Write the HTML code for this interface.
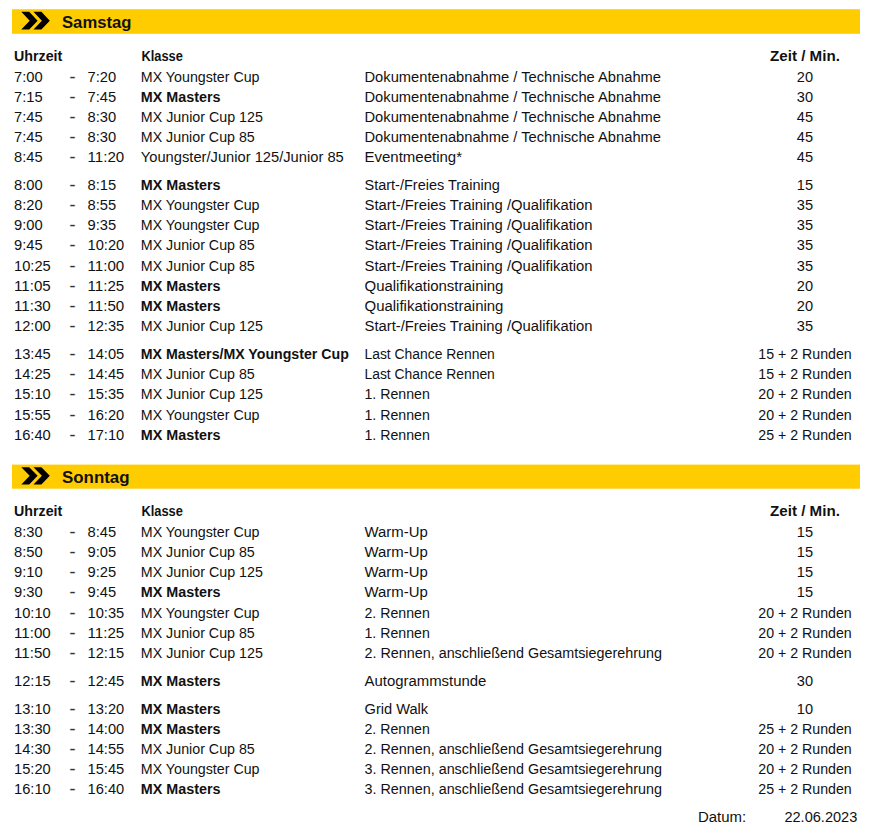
<!DOCTYPE html>
<html><head><meta charset="utf-8"><title>Zeitplan</title>
<style>
html,body{margin:0;padding:0;background:#fff;}
body{width:872px;height:831px;overflow:hidden;}
svg{display:block;}
text{font-family:"Liberation Sans",Arial,sans-serif;fill:#111;}
.r{font-size:14px;}
.b{font-size:14px;font-weight:bold;}
.h{font-size:16.6px;font-weight:bold;}
.d{font-size:14px;stroke:#888;stroke-width:0.3px;}
</style></head><body>
<svg width="872" height="831" viewBox="0 0 872 831">

<rect x="12" y="9.2" width="848" height="24.599999999999998" fill="#FFCC00"/>
<g fill="#000"><polygon points="21.30,11.80 29.20,11.80 37.60,20.70 29.20,29.60 21.30,29.60 29.70,20.70"/><polygon points="33.50,11.80 41.40,11.80 49.80,20.70 41.40,29.60 33.50,29.60 41.90,20.70"/></g>
<rect x="12" y="464.6" width="848" height="24.099999999999966" fill="#FFCC00"/>
<g fill="#000"><polygon points="21.30,467.20 29.20,467.20 37.60,475.85 29.20,484.50 21.30,484.50 29.70,475.85"/><polygon points="33.50,467.20 41.40,467.20 49.80,475.85 41.40,484.50 33.50,484.50 41.90,475.85"/></g>
<text class="b" x="14.00" y="61.10" textLength="48.31" lengthAdjust="spacingAndGlyphs">Uhrzeit</text>
<text class="b" x="141.50" y="61.10" textLength="41.40" lengthAdjust="spacingAndGlyphs">Klasse</text>
<text class="b" x="805.00" y="61.10" text-anchor="middle" textLength="69.82" lengthAdjust="spacingAndGlyphs">Zeit / Min.</text>
<text class="b" x="14.00" y="516.00" textLength="48.31" lengthAdjust="spacingAndGlyphs">Uhrzeit</text>
<text class="b" x="141.50" y="516.00" textLength="41.40" lengthAdjust="spacingAndGlyphs">Klasse</text>
<text class="b" x="805.00" y="516.00" text-anchor="middle" textLength="69.82" lengthAdjust="spacingAndGlyphs">Zeit / Min.</text>
<text class="r" x="14.00" y="81.50" textLength="28.61" lengthAdjust="spacingAndGlyphs">7:00</text>
<text class="d" x="69.60" y="81.50" textLength="6.00" lengthAdjust="spacingAndGlyphs">-</text>
<text class="r" x="87.50" y="81.50" textLength="28.61" lengthAdjust="spacingAndGlyphs">7:20</text>
<text class="r" x="140.80" y="81.50" textLength="118.75" lengthAdjust="spacingAndGlyphs">MX Youngster Cup</text>
<text class="r" x="364.50" y="81.50" textLength="296.49" lengthAdjust="spacingAndGlyphs">Dokumentenabnahme / Technische Abnahme</text>
<text class="r" x="805.00" y="81.50" text-anchor="middle" textLength="16.22" lengthAdjust="spacingAndGlyphs">20</text>
<text class="r" x="14.00" y="101.70" textLength="28.61" lengthAdjust="spacingAndGlyphs">7:15</text>
<text class="d" x="69.60" y="101.70" textLength="6.00" lengthAdjust="spacingAndGlyphs">-</text>
<text class="r" x="87.50" y="101.70" textLength="28.61" lengthAdjust="spacingAndGlyphs">7:45</text>
<text class="b" x="140.80" y="101.70" textLength="79.78" lengthAdjust="spacingAndGlyphs">MX Masters</text>
<text class="r" x="364.50" y="101.70" textLength="296.49" lengthAdjust="spacingAndGlyphs">Dokumentenabnahme / Technische Abnahme</text>
<text class="r" x="805.00" y="101.70" text-anchor="middle" textLength="16.22" lengthAdjust="spacingAndGlyphs">30</text>
<text class="r" x="14.00" y="121.70" textLength="28.61" lengthAdjust="spacingAndGlyphs">7:45</text>
<text class="d" x="69.60" y="121.70" textLength="6.00" lengthAdjust="spacingAndGlyphs">-</text>
<text class="r" x="87.50" y="121.70" textLength="28.61" lengthAdjust="spacingAndGlyphs">8:30</text>
<text class="r" x="140.80" y="121.70" textLength="122.11" lengthAdjust="spacingAndGlyphs">MX Junior Cup 125</text>
<text class="r" x="364.50" y="121.70" textLength="296.49" lengthAdjust="spacingAndGlyphs">Dokumentenabnahme / Technische Abnahme</text>
<text class="r" x="805.00" y="121.70" text-anchor="middle" textLength="16.22" lengthAdjust="spacingAndGlyphs">45</text>
<text class="r" x="14.00" y="141.80" textLength="28.61" lengthAdjust="spacingAndGlyphs">7:45</text>
<text class="d" x="69.60" y="141.80" textLength="6.00" lengthAdjust="spacingAndGlyphs">-</text>
<text class="r" x="87.50" y="141.80" textLength="28.61" lengthAdjust="spacingAndGlyphs">8:30</text>
<text class="r" x="140.80" y="141.80" textLength="114.00" lengthAdjust="spacingAndGlyphs">MX Junior Cup 85</text>
<text class="r" x="364.50" y="141.80" textLength="296.49" lengthAdjust="spacingAndGlyphs">Dokumentenabnahme / Technische Abnahme</text>
<text class="r" x="805.00" y="141.80" text-anchor="middle" textLength="16.22" lengthAdjust="spacingAndGlyphs">45</text>
<text class="r" x="14.00" y="161.90" textLength="28.61" lengthAdjust="spacingAndGlyphs">8:45</text>
<text class="d" x="69.60" y="161.90" textLength="6.00" lengthAdjust="spacingAndGlyphs">-</text>
<text class="r" x="87.50" y="161.90" textLength="36.72" lengthAdjust="spacingAndGlyphs">11:20</text>
<text class="r" x="140.80" y="161.90" textLength="202.95" lengthAdjust="spacingAndGlyphs">Youngster/Junior 125/Junior 85</text>
<text class="r" x="364.50" y="161.90" textLength="97.52" lengthAdjust="spacingAndGlyphs">Eventmeeting*</text>
<text class="r" x="805.00" y="161.90" text-anchor="middle" textLength="16.22" lengthAdjust="spacingAndGlyphs">45</text>
<text class="r" x="14.00" y="190.00" textLength="28.61" lengthAdjust="spacingAndGlyphs">8:00</text>
<text class="d" x="69.60" y="190.00" textLength="6.00" lengthAdjust="spacingAndGlyphs">-</text>
<text class="r" x="87.50" y="190.00" textLength="28.61" lengthAdjust="spacingAndGlyphs">8:15</text>
<text class="b" x="140.80" y="190.00" textLength="79.78" lengthAdjust="spacingAndGlyphs">MX Masters</text>
<text class="r" x="364.50" y="190.00" textLength="135.30" lengthAdjust="spacingAndGlyphs">Start-/Freies Training</text>
<text class="r" x="805.00" y="190.00" text-anchor="middle" textLength="16.22" lengthAdjust="spacingAndGlyphs">15</text>
<text class="r" x="14.00" y="210.00" textLength="28.61" lengthAdjust="spacingAndGlyphs">8:20</text>
<text class="d" x="69.60" y="210.00" textLength="6.00" lengthAdjust="spacingAndGlyphs">-</text>
<text class="r" x="87.50" y="210.00" textLength="28.61" lengthAdjust="spacingAndGlyphs">8:55</text>
<text class="r" x="140.80" y="210.00" textLength="118.75" lengthAdjust="spacingAndGlyphs">MX Youngster Cup</text>
<text class="r" x="364.50" y="210.00" textLength="228.02" lengthAdjust="spacingAndGlyphs">Start-/Freies Training /Qualifikation</text>
<text class="r" x="805.00" y="210.00" text-anchor="middle" textLength="16.22" lengthAdjust="spacingAndGlyphs">35</text>
<text class="r" x="14.00" y="230.10" textLength="28.61" lengthAdjust="spacingAndGlyphs">9:00</text>
<text class="d" x="69.60" y="230.10" textLength="6.00" lengthAdjust="spacingAndGlyphs">-</text>
<text class="r" x="87.50" y="230.10" textLength="28.61" lengthAdjust="spacingAndGlyphs">9:35</text>
<text class="r" x="140.80" y="230.10" textLength="118.75" lengthAdjust="spacingAndGlyphs">MX Youngster Cup</text>
<text class="r" x="364.50" y="230.10" textLength="228.02" lengthAdjust="spacingAndGlyphs">Start-/Freies Training /Qualifikation</text>
<text class="r" x="805.00" y="230.10" text-anchor="middle" textLength="16.22" lengthAdjust="spacingAndGlyphs">35</text>
<text class="r" x="14.00" y="250.30" textLength="28.61" lengthAdjust="spacingAndGlyphs">9:45</text>
<text class="d" x="69.60" y="250.30" textLength="6.00" lengthAdjust="spacingAndGlyphs">-</text>
<text class="r" x="87.50" y="250.30" textLength="36.72" lengthAdjust="spacingAndGlyphs">10:20</text>
<text class="r" x="140.80" y="250.30" textLength="114.00" lengthAdjust="spacingAndGlyphs">MX Junior Cup 85</text>
<text class="r" x="364.50" y="250.30" textLength="228.02" lengthAdjust="spacingAndGlyphs">Start-/Freies Training /Qualifikation</text>
<text class="r" x="805.00" y="250.30" text-anchor="middle" textLength="16.22" lengthAdjust="spacingAndGlyphs">35</text>
<text class="r" x="14.00" y="270.50" textLength="36.72" lengthAdjust="spacingAndGlyphs">10:25</text>
<text class="d" x="69.60" y="270.50" textLength="6.00" lengthAdjust="spacingAndGlyphs">-</text>
<text class="r" x="87.50" y="270.50" textLength="36.72" lengthAdjust="spacingAndGlyphs">11:00</text>
<text class="r" x="140.80" y="270.50" textLength="114.00" lengthAdjust="spacingAndGlyphs">MX Junior Cup 85</text>
<text class="r" x="364.50" y="270.50" textLength="228.02" lengthAdjust="spacingAndGlyphs">Start-/Freies Training /Qualifikation</text>
<text class="r" x="805.00" y="270.50" text-anchor="middle" textLength="16.22" lengthAdjust="spacingAndGlyphs">35</text>
<text class="r" x="14.00" y="290.70" textLength="36.72" lengthAdjust="spacingAndGlyphs">11:05</text>
<text class="d" x="69.60" y="290.70" textLength="6.00" lengthAdjust="spacingAndGlyphs">-</text>
<text class="r" x="87.50" y="290.70" textLength="36.72" lengthAdjust="spacingAndGlyphs">11:25</text>
<text class="b" x="140.80" y="290.70" textLength="79.78" lengthAdjust="spacingAndGlyphs">MX Masters</text>
<text class="r" x="364.50" y="290.70" textLength="138.96" lengthAdjust="spacingAndGlyphs">Qualifikationstraining</text>
<text class="r" x="805.00" y="290.70" text-anchor="middle" textLength="16.22" lengthAdjust="spacingAndGlyphs">20</text>
<text class="r" x="14.00" y="310.90" textLength="36.72" lengthAdjust="spacingAndGlyphs">11:30</text>
<text class="d" x="69.60" y="310.90" textLength="6.00" lengthAdjust="spacingAndGlyphs">-</text>
<text class="r" x="87.50" y="310.90" textLength="36.72" lengthAdjust="spacingAndGlyphs">11:50</text>
<text class="b" x="140.80" y="310.90" textLength="79.78" lengthAdjust="spacingAndGlyphs">MX Masters</text>
<text class="r" x="364.50" y="310.90" textLength="138.96" lengthAdjust="spacingAndGlyphs">Qualifikationstraining</text>
<text class="r" x="805.00" y="310.90" text-anchor="middle" textLength="16.22" lengthAdjust="spacingAndGlyphs">20</text>
<text class="r" x="14.00" y="331.10" textLength="36.72" lengthAdjust="spacingAndGlyphs">12:00</text>
<text class="d" x="69.60" y="331.10" textLength="6.00" lengthAdjust="spacingAndGlyphs">-</text>
<text class="r" x="87.50" y="331.10" textLength="36.72" lengthAdjust="spacingAndGlyphs">12:35</text>
<text class="r" x="140.80" y="331.10" textLength="122.11" lengthAdjust="spacingAndGlyphs">MX Junior Cup 125</text>
<text class="r" x="364.50" y="331.10" textLength="228.02" lengthAdjust="spacingAndGlyphs">Start-/Freies Training /Qualifikation</text>
<text class="r" x="805.00" y="331.10" text-anchor="middle" textLength="16.22" lengthAdjust="spacingAndGlyphs">35</text>
<text class="r" x="14.00" y="359.10" textLength="36.72" lengthAdjust="spacingAndGlyphs">13:45</text>
<text class="d" x="69.60" y="359.10" textLength="6.00" lengthAdjust="spacingAndGlyphs">-</text>
<text class="r" x="87.50" y="359.10" textLength="36.72" lengthAdjust="spacingAndGlyphs">14:05</text>
<text class="b" x="140.80" y="359.10" textLength="208.01" lengthAdjust="spacingAndGlyphs">MX Masters/MX Youngster Cup</text>
<text class="r" x="364.50" y="359.10" textLength="130.34" lengthAdjust="spacingAndGlyphs">Last Chance Rennen</text>
<text class="r" x="805.00" y="359.10" text-anchor="middle" textLength="93.42" lengthAdjust="spacingAndGlyphs">15 + 2 Runden</text>
<text class="r" x="14.00" y="379.30" textLength="36.72" lengthAdjust="spacingAndGlyphs">14:25</text>
<text class="d" x="69.60" y="379.30" textLength="6.00" lengthAdjust="spacingAndGlyphs">-</text>
<text class="r" x="87.50" y="379.30" textLength="36.72" lengthAdjust="spacingAndGlyphs">14:45</text>
<text class="r" x="140.80" y="379.30" textLength="114.00" lengthAdjust="spacingAndGlyphs">MX Junior Cup 85</text>
<text class="r" x="364.50" y="379.30" textLength="130.34" lengthAdjust="spacingAndGlyphs">Last Chance Rennen</text>
<text class="r" x="805.00" y="379.30" text-anchor="middle" textLength="93.42" lengthAdjust="spacingAndGlyphs">15 + 2 Runden</text>
<text class="r" x="14.00" y="399.40" textLength="36.72" lengthAdjust="spacingAndGlyphs">15:10</text>
<text class="d" x="69.60" y="399.40" textLength="6.00" lengthAdjust="spacingAndGlyphs">-</text>
<text class="r" x="87.50" y="399.40" textLength="36.72" lengthAdjust="spacingAndGlyphs">15:35</text>
<text class="r" x="140.80" y="399.40" textLength="122.11" lengthAdjust="spacingAndGlyphs">MX Junior Cup 125</text>
<text class="r" x="364.50" y="399.40" textLength="65.31" lengthAdjust="spacingAndGlyphs">1. Rennen</text>
<text class="r" x="805.00" y="399.40" text-anchor="middle" textLength="93.42" lengthAdjust="spacingAndGlyphs">20 + 2 Runden</text>
<text class="r" x="14.00" y="419.60" textLength="36.72" lengthAdjust="spacingAndGlyphs">15:55</text>
<text class="d" x="69.60" y="419.60" textLength="6.00" lengthAdjust="spacingAndGlyphs">-</text>
<text class="r" x="87.50" y="419.60" textLength="36.72" lengthAdjust="spacingAndGlyphs">16:20</text>
<text class="r" x="140.80" y="419.60" textLength="118.75" lengthAdjust="spacingAndGlyphs">MX Youngster Cup</text>
<text class="r" x="364.50" y="419.60" textLength="65.31" lengthAdjust="spacingAndGlyphs">1. Rennen</text>
<text class="r" x="805.00" y="419.60" text-anchor="middle" textLength="93.42" lengthAdjust="spacingAndGlyphs">20 + 2 Runden</text>
<text class="r" x="14.00" y="439.60" textLength="36.72" lengthAdjust="spacingAndGlyphs">16:40</text>
<text class="d" x="69.60" y="439.60" textLength="6.00" lengthAdjust="spacingAndGlyphs">-</text>
<text class="r" x="87.50" y="439.60" textLength="36.72" lengthAdjust="spacingAndGlyphs">17:10</text>
<text class="b" x="140.80" y="439.60" textLength="79.78" lengthAdjust="spacingAndGlyphs">MX Masters</text>
<text class="r" x="364.50" y="439.60" textLength="65.31" lengthAdjust="spacingAndGlyphs">1. Rennen</text>
<text class="r" x="805.00" y="439.60" text-anchor="middle" textLength="93.42" lengthAdjust="spacingAndGlyphs">25 + 2 Runden</text>
<text class="r" x="14.00" y="536.80" textLength="28.61" lengthAdjust="spacingAndGlyphs">8:30</text>
<text class="d" x="69.60" y="536.80" textLength="6.00" lengthAdjust="spacingAndGlyphs">-</text>
<text class="r" x="87.50" y="536.80" textLength="28.61" lengthAdjust="spacingAndGlyphs">8:45</text>
<text class="r" x="140.80" y="536.80" textLength="118.75" lengthAdjust="spacingAndGlyphs">MX Youngster Cup</text>
<text class="r" x="364.50" y="536.80" textLength="63.27" lengthAdjust="spacingAndGlyphs">Warm-Up</text>
<text class="r" x="805.00" y="536.80" text-anchor="middle" textLength="16.22" lengthAdjust="spacingAndGlyphs">15</text>
<text class="r" x="14.00" y="557.00" textLength="28.61" lengthAdjust="spacingAndGlyphs">8:50</text>
<text class="d" x="69.60" y="557.00" textLength="6.00" lengthAdjust="spacingAndGlyphs">-</text>
<text class="r" x="87.50" y="557.00" textLength="28.61" lengthAdjust="spacingAndGlyphs">9:05</text>
<text class="r" x="140.80" y="557.00" textLength="114.00" lengthAdjust="spacingAndGlyphs">MX Junior Cup 85</text>
<text class="r" x="364.50" y="557.00" textLength="63.27" lengthAdjust="spacingAndGlyphs">Warm-Up</text>
<text class="r" x="805.00" y="557.00" text-anchor="middle" textLength="16.22" lengthAdjust="spacingAndGlyphs">15</text>
<text class="r" x="14.00" y="577.20" textLength="28.61" lengthAdjust="spacingAndGlyphs">9:10</text>
<text class="d" x="69.60" y="577.20" textLength="6.00" lengthAdjust="spacingAndGlyphs">-</text>
<text class="r" x="87.50" y="577.20" textLength="28.61" lengthAdjust="spacingAndGlyphs">9:25</text>
<text class="r" x="140.80" y="577.20" textLength="122.11" lengthAdjust="spacingAndGlyphs">MX Junior Cup 125</text>
<text class="r" x="364.50" y="577.20" textLength="63.27" lengthAdjust="spacingAndGlyphs">Warm-Up</text>
<text class="r" x="805.00" y="577.20" text-anchor="middle" textLength="16.22" lengthAdjust="spacingAndGlyphs">15</text>
<text class="r" x="14.00" y="597.40" textLength="28.61" lengthAdjust="spacingAndGlyphs">9:30</text>
<text class="d" x="69.60" y="597.40" textLength="6.00" lengthAdjust="spacingAndGlyphs">-</text>
<text class="r" x="87.50" y="597.40" textLength="28.61" lengthAdjust="spacingAndGlyphs">9:45</text>
<text class="b" x="140.80" y="597.40" textLength="79.78" lengthAdjust="spacingAndGlyphs">MX Masters</text>
<text class="r" x="364.50" y="597.40" textLength="63.27" lengthAdjust="spacingAndGlyphs">Warm-Up</text>
<text class="r" x="805.00" y="597.40" text-anchor="middle" textLength="16.22" lengthAdjust="spacingAndGlyphs">15</text>
<text class="r" x="14.00" y="617.60" textLength="36.72" lengthAdjust="spacingAndGlyphs">10:10</text>
<text class="d" x="69.60" y="617.60" textLength="6.00" lengthAdjust="spacingAndGlyphs">-</text>
<text class="r" x="87.50" y="617.60" textLength="36.72" lengthAdjust="spacingAndGlyphs">10:35</text>
<text class="r" x="140.80" y="617.60" textLength="118.75" lengthAdjust="spacingAndGlyphs">MX Youngster Cup</text>
<text class="r" x="364.50" y="617.60" textLength="65.31" lengthAdjust="spacingAndGlyphs">2. Rennen</text>
<text class="r" x="805.00" y="617.60" text-anchor="middle" textLength="93.42" lengthAdjust="spacingAndGlyphs">20 + 2 Runden</text>
<text class="r" x="14.00" y="637.80" textLength="36.72" lengthAdjust="spacingAndGlyphs">11:00</text>
<text class="d" x="69.60" y="637.80" textLength="6.00" lengthAdjust="spacingAndGlyphs">-</text>
<text class="r" x="87.50" y="637.80" textLength="36.72" lengthAdjust="spacingAndGlyphs">11:25</text>
<text class="r" x="140.80" y="637.80" textLength="114.00" lengthAdjust="spacingAndGlyphs">MX Junior Cup 85</text>
<text class="r" x="364.50" y="637.80" textLength="65.31" lengthAdjust="spacingAndGlyphs">1. Rennen</text>
<text class="r" x="805.00" y="637.80" text-anchor="middle" textLength="93.42" lengthAdjust="spacingAndGlyphs">20 + 2 Runden</text>
<text class="r" x="14.00" y="658.00" textLength="36.72" lengthAdjust="spacingAndGlyphs">11:50</text>
<text class="d" x="69.60" y="658.00" textLength="6.00" lengthAdjust="spacingAndGlyphs">-</text>
<text class="r" x="87.50" y="658.00" textLength="36.72" lengthAdjust="spacingAndGlyphs">12:15</text>
<text class="r" x="140.80" y="658.00" textLength="122.11" lengthAdjust="spacingAndGlyphs">MX Junior Cup 125</text>
<text class="r" x="364.50" y="658.00" textLength="297.43" lengthAdjust="spacingAndGlyphs">2. Rennen, anschließend Gesamtsiegerehrung</text>
<text class="r" x="805.00" y="658.00" text-anchor="middle" textLength="93.42" lengthAdjust="spacingAndGlyphs">20 + 2 Runden</text>
<text class="r" x="14.00" y="686.40" textLength="36.72" lengthAdjust="spacingAndGlyphs">12:15</text>
<text class="d" x="69.60" y="686.40" textLength="6.00" lengthAdjust="spacingAndGlyphs">-</text>
<text class="r" x="87.50" y="686.40" textLength="36.72" lengthAdjust="spacingAndGlyphs">12:45</text>
<text class="b" x="140.80" y="686.40" textLength="79.78" lengthAdjust="spacingAndGlyphs">MX Masters</text>
<text class="r" x="364.50" y="686.40" textLength="121.93" lengthAdjust="spacingAndGlyphs">Autogrammstunde</text>
<text class="r" x="805.00" y="686.40" text-anchor="middle" textLength="16.22" lengthAdjust="spacingAndGlyphs">30</text>
<text class="r" x="14.00" y="713.90" textLength="36.72" lengthAdjust="spacingAndGlyphs">13:10</text>
<text class="d" x="69.60" y="713.90" textLength="6.00" lengthAdjust="spacingAndGlyphs">-</text>
<text class="r" x="87.50" y="713.90" textLength="36.72" lengthAdjust="spacingAndGlyphs">13:20</text>
<text class="b" x="140.80" y="713.90" textLength="79.78" lengthAdjust="spacingAndGlyphs">MX Masters</text>
<text class="r" x="364.50" y="713.90" textLength="63.66" lengthAdjust="spacingAndGlyphs">Grid Walk</text>
<text class="r" x="805.00" y="713.90" text-anchor="middle" textLength="16.22" lengthAdjust="spacingAndGlyphs">10</text>
<text class="r" x="14.00" y="733.90" textLength="36.72" lengthAdjust="spacingAndGlyphs">13:30</text>
<text class="d" x="69.60" y="733.90" textLength="6.00" lengthAdjust="spacingAndGlyphs">-</text>
<text class="r" x="87.50" y="733.90" textLength="36.72" lengthAdjust="spacingAndGlyphs">14:00</text>
<text class="b" x="140.80" y="733.90" textLength="79.78" lengthAdjust="spacingAndGlyphs">MX Masters</text>
<text class="r" x="364.50" y="733.90" textLength="65.31" lengthAdjust="spacingAndGlyphs">2. Rennen</text>
<text class="r" x="805.00" y="733.90" text-anchor="middle" textLength="93.42" lengthAdjust="spacingAndGlyphs">25 + 2 Runden</text>
<text class="r" x="14.00" y="754.00" textLength="36.72" lengthAdjust="spacingAndGlyphs">14:30</text>
<text class="d" x="69.60" y="754.00" textLength="6.00" lengthAdjust="spacingAndGlyphs">-</text>
<text class="r" x="87.50" y="754.00" textLength="36.72" lengthAdjust="spacingAndGlyphs">14:55</text>
<text class="r" x="140.80" y="754.00" textLength="114.00" lengthAdjust="spacingAndGlyphs">MX Junior Cup 85</text>
<text class="r" x="364.50" y="754.00" textLength="297.43" lengthAdjust="spacingAndGlyphs">2. Rennen, anschließend Gesamtsiegerehrung</text>
<text class="r" x="805.00" y="754.00" text-anchor="middle" textLength="93.42" lengthAdjust="spacingAndGlyphs">20 + 2 Runden</text>
<text class="r" x="14.00" y="774.00" textLength="36.72" lengthAdjust="spacingAndGlyphs">15:20</text>
<text class="d" x="69.60" y="774.00" textLength="6.00" lengthAdjust="spacingAndGlyphs">-</text>
<text class="r" x="87.50" y="774.00" textLength="36.72" lengthAdjust="spacingAndGlyphs">15:45</text>
<text class="r" x="140.80" y="774.00" textLength="118.75" lengthAdjust="spacingAndGlyphs">MX Youngster Cup</text>
<text class="r" x="364.50" y="774.00" textLength="297.43" lengthAdjust="spacingAndGlyphs">3. Rennen, anschließend Gesamtsiegerehrung</text>
<text class="r" x="805.00" y="774.00" text-anchor="middle" textLength="93.42" lengthAdjust="spacingAndGlyphs">20 + 2 Runden</text>
<text class="r" x="14.00" y="794.10" textLength="36.72" lengthAdjust="spacingAndGlyphs">16:10</text>
<text class="d" x="69.60" y="794.10" textLength="6.00" lengthAdjust="spacingAndGlyphs">-</text>
<text class="r" x="87.50" y="794.10" textLength="36.72" lengthAdjust="spacingAndGlyphs">16:40</text>
<text class="b" x="140.80" y="794.10" textLength="79.78" lengthAdjust="spacingAndGlyphs">MX Masters</text>
<text class="r" x="364.50" y="794.10" textLength="297.43" lengthAdjust="spacingAndGlyphs">3. Rennen, anschließend Gesamtsiegerehrung</text>
<text class="r" x="805.00" y="794.10" text-anchor="middle" textLength="93.42" lengthAdjust="spacingAndGlyphs">25 + 2 Runden</text>
<text class="r" x="698.00" y="821.70" textLength="48.19" lengthAdjust="spacingAndGlyphs">Datum:</text>
<text class="r" x="784.40" y="821.70" textLength="72.95" lengthAdjust="spacingAndGlyphs">22.06.2023</text>
<text class="h" x="62.00" y="27.70" textLength="69.44" lengthAdjust="spacingAndGlyphs">Samstag</text>
<text class="h" x="62.00" y="483.30" textLength="67.58" lengthAdjust="spacingAndGlyphs">Sonntag</text>
</svg>
</body></html>
